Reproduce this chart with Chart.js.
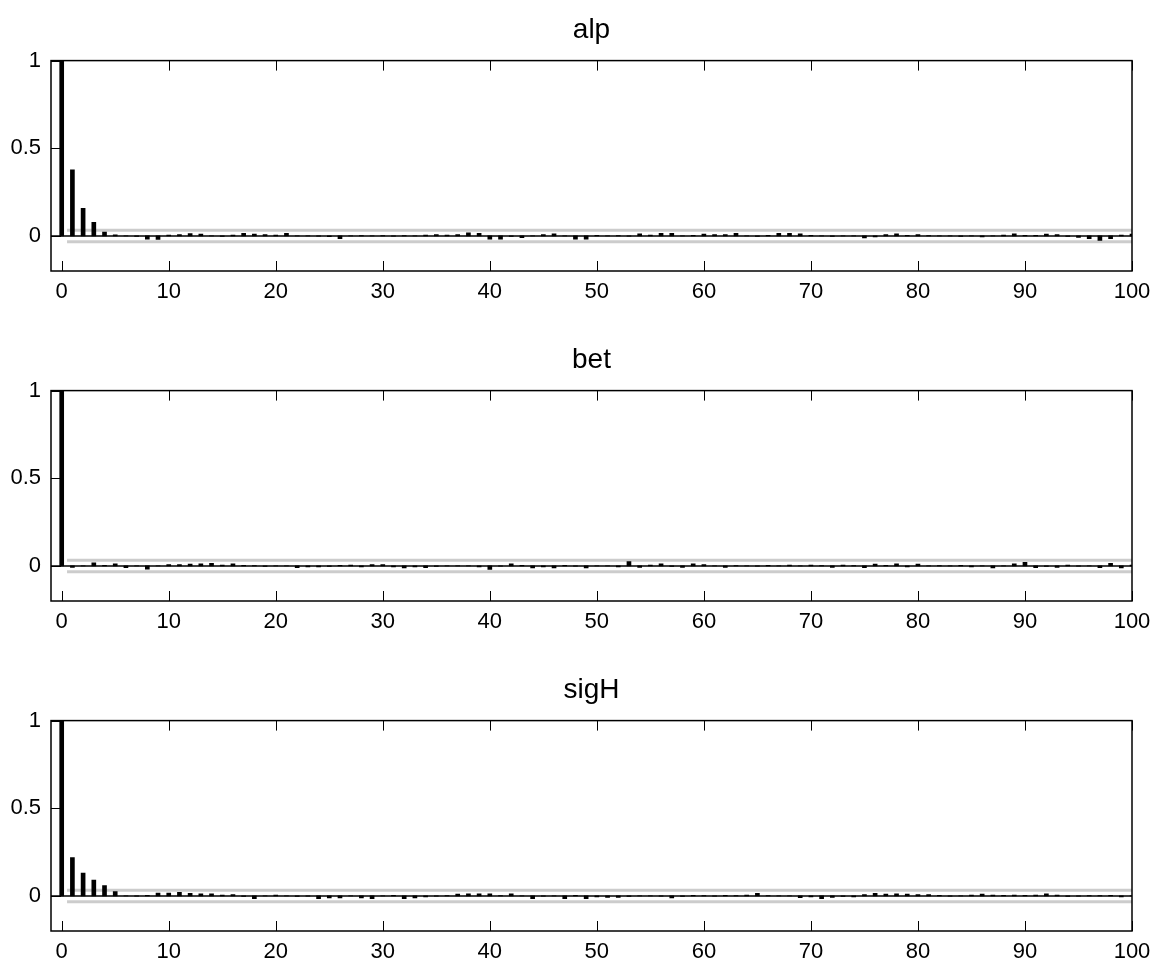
<!DOCTYPE html>
<html>
<head>
<meta charset="utf-8">
<script src="https://cdn.jsdelivr.net/npm/chart.js@4.4.1/dist/chart.umd.min.js"></script>
<style>
  html, body { margin: 0; padding: 0; background: #fff; }
  .panel { position: absolute; left: 0; width: 1165px; height: 307px; }
</style>
</head>
<body>
<div class="panel" style="top:0px"><canvas id="chartAlp" width="1165" height="307"></canvas></div>
<div class="panel" style="top:330px"><canvas id="chartBet" width="1165" height="307"></canvas></div>
<div class="panel" style="top:660px"><canvas id="chartSigH" width="1165" height="307"></canvas></div>
<script>
// --------------------------------------------------
// Data: autocorrelation by lag (index = lag 0..100)
// --------------------------------------------------
const acfAlp = [
  1, 0.377, 0.158, 0.078, 0.022, 0.006, 0.001, -0.003, -0.018, -0.02,
  0.005, 0.008, 0.013, 0.01, 0.001, -0.003, 0.005, 0.015, 0.01, 0.008,
  0.005, 0.015, 0.001, 0.001, -0.002, -0.004, -0.016, 0.001, 0.002, 0.001,
  0.002, -0.002, 0.002, 0.001, 0.005, 0.008, 0.005, 0.008, 0.018, 0.015,
  -0.018, -0.018, -0.003, -0.01, 0.001, 0.008, 0.012, 0.001, -0.018, -0.018,
  0.004, 0.001, 0.002, -0.001, 0.012, 0.005, 0.015, 0.015, 0.001, 0.003,
  0.01, 0.008, 0.008, 0.015, 0.001, -0.003, 0.004, 0.015, 0.015, 0.012,
  0.003, 0.001, -0.003, 0.001, 0.001, -0.012, -0.005, 0.008, 0.012, 0.003,
  0.008, 0.002, 0.001, 0.001, -0.003, 0.001, -0.005, 0.001, 0.005, 0.012,
  0.003, 0.003, 0.01, 0.008, -0.003, -0.008, -0.015, -0.025, -0.015, 0.005,
  0.01
];

const acfBet = [
  1, -0.008, 0.001, 0.018, 0.003, 0.012, -0.01, 0.001, -0.018, 0.001,
  0.008, 0.008, 0.01, 0.012, 0.015, 0.005, 0.012, 0.003, 0.002, -0.003,
  0.001, 0.001, -0.01, -0.005, -0.005, -0.003, 0.003, 0.005, -0.005, 0.008,
  0.008, -0.006, -0.012, -0.005, -0.01, -0.003, 0.001, 0.001, 0.001, -0.005,
  -0.02, -0.002, 0.012, 0.003, -0.012, -0.005, -0.012, 0.003, -0.002, -0.012,
  0.001, 0.001, -0.005, 0.025, -0.008, 0.005, 0.012, -0.003, -0.008, 0.012,
  0.008, 0.001, -0.008, 0.002, 0.001, -0.002, 0.003, 0.001, 0.005, 0.001,
  0.005, 0.002, -0.008, 0.005, 0.002, -0.01, 0.01, 0.003, 0.012, -0.005,
  0.01, 0.001, 0.002, 0.001, 0.003, -0.005, 0.001, -0.012, 0.001, 0.012,
  0.02, -0.01, -0.003, -0.008, 0.005, -0.002, 0.001, -0.01, 0.015, -0.012,
  0.005
];

const acfSigH = [
  1, 0.219, 0.131, 0.09, 0.059, 0.025, 0.001, -0.002, 0.003, 0.016,
  0.016, 0.02, 0.015, 0.012, 0.012, 0.005, 0.008, -0.003, -0.015, 0.001,
  0.005, 0.001, -0.003, -0.002, -0.015, -0.012, -0.012, 0.001, -0.012, -0.015,
  0.001, 0.003, -0.015, -0.012, -0.005, -0.002, 0.002, 0.01, 0.012, 0.012,
  0.012, 0.002, 0.012, 0.001, -0.015, -0.002, 0.001, -0.015, 0.003, -0.015,
  -0.005, -0.008, -0.008, -0.003, 0.001, 0.001, -0.002, -0.012, -0.003, 0.003,
  0.002, -0.002, 0.003, 0.002, 0.005, 0.015, 0.002, 0.001, 0.001, -0.01,
  -0.005, -0.015, -0.008, -0.003, -0.005, 0.008, 0.015, 0.01, 0.012, 0.01,
  0.008, 0.008, 0.003, -0.002, 0.001, 0.005, 0.01, 0.005, 0.003, 0.005,
  0.003, 0.005, 0.012, 0.005, -0.003, -0.002, 0.002, 0.002, 0.003, -0.005,
  0.001
];

const xTicks = [0, 10, 20, 30, 40, 50, 60, 70, 80, 90, 100];
const yTicks = [0, 0.5, 1];
const confBand = 0.033; // approx 95% bounds

const FONT = "'Liberation Sans', Arial, sans-serif";

// inward tick marks + box frame, R-style
const framePlugin = {
  id: "frame",
  afterDraw(chart) {
    const { ctx, chartArea: a, scales } = chart;
    ctx.save();
    ctx.strokeStyle = "#000";
    ctx.lineWidth = 1;
    xTicks.forEach((v) => {
      const px = Math.round(scales.x.getPixelForValue(v)) + 0.5;
      ctx.beginPath();
      ctx.moveTo(px, a.bottom);
      ctx.lineTo(px, a.bottom - 10);
      ctx.moveTo(px, a.top);
      ctx.lineTo(px, a.top + 10);
      ctx.stroke();
    });
    yTicks.forEach((v) => {
      const py = Math.round(scales.y.getPixelForValue(v)) + 0.5;
      ctx.beginPath();
      ctx.moveTo(a.left, py);
      ctx.lineTo(a.left + 10, py);
      ctx.stroke();
    });
    ctx.lineWidth = 1.5;
    ctx.strokeRect(a.left, a.top, a.right - a.left, a.bottom - a.top);
    ctx.restore();
  },
};

function buildAcfChart(canvasId, title, values) {
  const ctx = document.getElementById(canvasId);
  if (!ctx) return;

  new Chart(ctx, {
    type: "bar",
    data: {
      datasets: [
        {
          type: "bar",
          data: values.map((v, i) => ({ x: i, y: v })),
          backgroundColor: "#000",
          barThickness: 4,
          order: 0,
        },
        {
          type: "line",
          data: [{ x: -1, y: 0 }, { x: 100, y: 0 }],
          borderColor: "#000",
          borderWidth: 1.5,
          pointRadius: 0,
          order: 1,
        },
        {
          type: "line",
          data: [{ x: 0.5, y: confBand }, { x: 100, y: confBand }],
          borderColor: "#cccccc",
          borderWidth: 3,
          pointRadius: 0,
          order: 2,
        },
        {
          type: "line",
          data: [{ x: 0.5, y: -confBand }, { x: 100, y: -confBand }],
          borderColor: "#cccccc",
          borderWidth: 3,
          pointRadius: 0,
          order: 2,
        },
      ],
    },
    options: {
      responsive: false,
      animation: false,
      devicePixelRatio: 1,
      layout: { padding: { left: 0, right: 33, top: 0, bottom: 0 } },
      plugins: {
        legend: { display: false },
        tooltip: { enabled: false },
        title: {
          display: true,
          fullSize: false,
          text: title,
          color: "#000",
          font: { family: FONT, size: 28, weight: "normal", lineHeight: 1.2 },
          padding: { top: 13, bottom: 14 },
        },
      },
      scales: {
        x: {
          type: "linear",
          min: -1,
          max: 100,
          offset: false,
          afterBuildTicks: (s) => {
            s.ticks = xTicks.map((v) => ({ value: v }));
          },
          afterFit: (s) => {
            s.height = 36;
          },
          grid: { display: false, drawTicks: false },
          border: { display: false },
          ticks: {
            color: "#000",
            padding: 8,
            maxRotation: 0,
            font: { family: FONT, size: 22 },
          },
        },
        y: {
          min: -0.2,
          max: 1,
          afterBuildTicks: (s) => {
            s.ticks = yTicks.map((v) => ({ value: v }));
          },
          afterFit: (s) => {
            s.width = 51;
          },
          grid: { display: false, drawTicks: false },
          border: { display: false },
          ticks: {
            color: "#000",
            padding: 10,
            font: { family: FONT, size: 22 },
            callback: (v) => String(v),
          },
        },
      },
    },
    plugins: [framePlugin],
  });
}

buildAcfChart("chartAlp", "alp", acfAlp);
buildAcfChart("chartBet", "bet", acfBet);
buildAcfChart("chartSigH", "sigH", acfSigH);
</script>
</body>
</html>
